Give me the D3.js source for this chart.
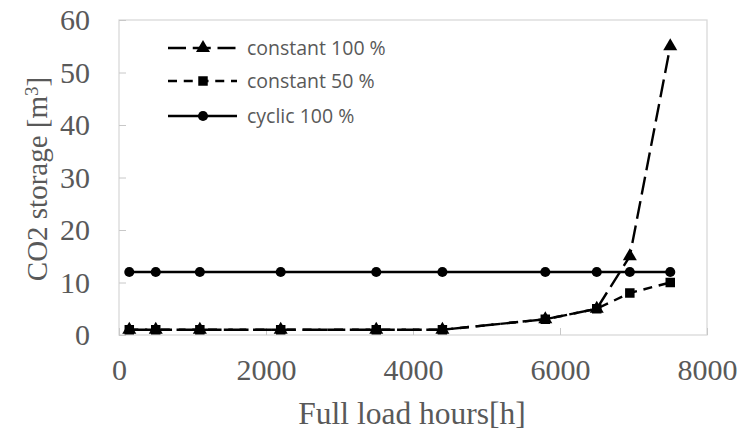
<!DOCTYPE html>
<html>
<head>
<meta charset="utf-8">
<script src="https://cdn.jsdelivr.net/npm/d3@7"></script>
<style>
  html, body { margin: 0; padding: 0; background: #fff; }
  svg { display: block; }
</style>
</head>
<body>
<svg id="chart" width="755" height="437"></svg>
<script>
// Full load hours at which each case was evaluated
const hours = [140, 500, 1100, 2200, 3500, 4400, 5800, 6500, 6950, 7500];
// Required CO2 storage volume [m3] per operating mode
const constant100 = [1, 1, 1, 1, 1, 1, 3, 5, 15, 55];
const constant50  = [1, 1, 1, 1, 1, 1, 3, 5, 8, 10];
const cyclic100   = [12, 12, 12, 12, 12, 12, 12, 12, 12, 12];

const xTicks = [0, 2000, 4000, 6000, 8000];
const yTicks = [0, 10, 20, 30, 40, 50, 60];

const seriesNames = ["constant 100 %", "constant 50 %", "cyclic 100 %"];

const svg = d3.select("#chart");
const plotLeft = 119, plotRight = 707, plotTop = 20, plotBottom = 335;

const x = d3.scaleLinear().domain([0, 8000]).range([plotLeft, plotRight]);
const y = d3.scaleLinear().domain([0, 60]).range([plotBottom, plotTop]);

const grey = "#595959";
const serif = "'Liberation Serif', 'Times New Roman', serif";

// plot frame
svg.append("rect")
  .attr("x", plotLeft).attr("y", plotTop)
  .attr("width", plotRight - plotLeft).attr("height", plotBottom - plotTop)
  .attr("fill", "none").attr("stroke", "#d9d9d9").attr("stroke-width", 1.3);

// axes with short inward ticks
const xAxis = svg.append("g")
  .attr("transform", `translate(0,${plotBottom})`)
  .call(d3.axisBottom(x).tickValues(xTicks).tickSize(-7).tickPadding(24).tickFormat(d3.format("d")));
const yAxis = svg.append("g")
  .attr("transform", `translate(${plotLeft},0)`)
  .call(d3.axisLeft(y).tickValues(yTicks).tickSize(-7).tickPadding(29).tickFormat(d3.format("d")));

[xAxis, yAxis].forEach(g => {
  g.select(".domain").remove();
  g.selectAll(".tick line").attr("stroke", "#c8c8c8").attr("stroke-width", 1);
  g.selectAll(".tick text")
    .attr("fill", grey)
    .style("font-family", serif)
    .style("font-size", "30px");
});

// axis titles
svg.append("text")
  .attr("x", 412).attr("y", 424)
  .attr("text-anchor", "middle")
  .attr("fill", grey)
  .style("font-family", serif).style("font-size", "31.5px")
  .text("Full load hours[h]");

const yTitle = svg.append("text")
  .attr("transform", "translate(47,179) rotate(-90)")
  .attr("text-anchor", "middle")
  .attr("fill", grey)
  .style("font-family", serif).style("font-size", "29px");
yTitle.append("tspan").text("CO2 storage [m");
yTitle.append("tspan").attr("dy", "-0.45em").style("font-size", "19px").text("3");
yTitle.append("tspan").attr("dy", "0.3em").text("]");

// series definitions
const series = [
  { name: seriesNames[0], values: constant100, dash: "18,6.75", marker: d3.symbolTriangle, size: 85 },
  { name: seriesNames[1], values: constant50,  dash: "9,6.75",  marker: d3.symbolSquare,   size: 90 },
  { name: seriesNames[2], values: cyclic100,   dash: null,      marker: d3.symbolCircle,   size: 80 }
];

const line = d3.line().x(d => x(d[0])).y(d => y(d[1]));

series.forEach(s => {
  const pts = hours.map((h, i) => [h, s.values[i]]);
  svg.append("path")
    .datum(pts)
    .attr("d", line)
    .attr("fill", "none")
    .attr("stroke", "#000")
    .attr("stroke-width", 2.4)
    .attr("stroke-dasharray", s.dash);
  svg.append("g").selectAll("path")
    .data(pts).join("path")
    .attr("transform", d => `translate(${x(d[0])},${y(d[1])})`)
    .attr("d", d3.symbol().type(s.marker).size(s.size))
    .attr("fill", "#000");
});

// legend
const legend = svg.append("g");
const legendRows = [48, 81, 116];
series.forEach((s, i) => {
  const ly = legendRows[i];
  legend.append("line")
    .attr("x1", 168).attr("x2", 237).attr("y1", ly).attr("y2", ly)
    .attr("stroke", "#000").attr("stroke-width", 2.4)
    .attr("stroke-dasharray", s.dash);
  legend.append("path")
    .attr("transform", `translate(203,${ly})`)
    .attr("d", d3.symbol().type(s.marker).size(s.size))
    .attr("fill", "#000");
  legend.append("text")
    .attr("x", 247).attr("y", ly)
    .attr("dy", "0.35em")
    .attr("fill", grey)
    .style("font-family", "'Open Sans', Lato, sans-serif")
    .style("font-size", "19.5px")
    .text(s.name);
});
</script>
</body>
</html>
